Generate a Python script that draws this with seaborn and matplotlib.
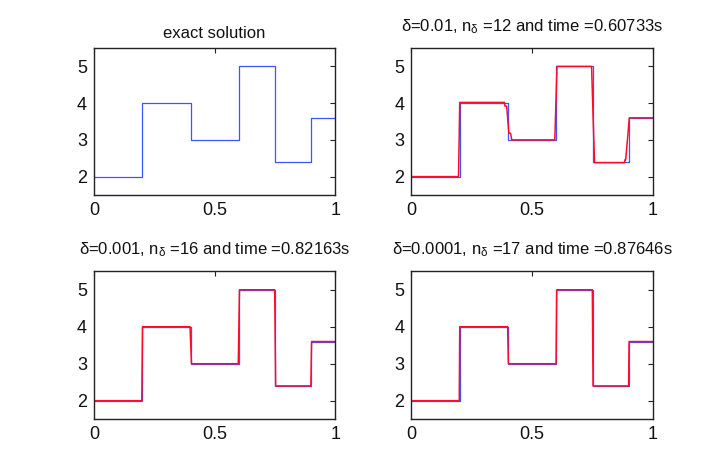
import matplotlib
matplotlib.use('Agg')  # no display
import matplotlib.pyplot as plt
import seaborn as sns
import pandas as pd

# exact solution: breakpoints and piecewise-constant values (steps-post)
exact_x = [0.0, 0.2, 0.4, 0.6, 0.75, 0.9, 1.0]
exact_y = [2.0, 4.0, 3.0, 5.0, 2.4, 3.6, 3.6]

# approximations
approx1_x = [0.0, 0.196, 0.201, 0.386, 0.388, 0.395, 0.404, 0.411, 0.416,
             0.594, 0.603, 0.746, 0.758, 0.882, 0.884, 0.887, 0.902, 1.0]
approx1_y = [2.0, 2.0, 4.02, 4.02, 3.92, 3.92, 3.18, 3.18, 3.0,
             3.0, 5.0, 5.0, 2.38, 2.38, 2.46, 2.46, 3.6, 3.6]

approx2_x = [0.0, 0.198, 0.201, 0.398, 0.404, 0.598, 0.603, 0.749, 0.753,
             0.899, 0.902, 1.0]
approx2_y = [2.0, 2.0, 4.0, 4.0, 3.0, 3.0, 5.0, 5.0, 2.4, 2.4, 3.6, 3.6]

approx3_x = [0.0, 0.199, 0.201, 0.399, 0.402, 0.599, 0.602, 0.749, 0.752,
             0.899, 0.901, 1.0]
approx3_y = [2.0, 2.0, 4.0, 4.0, 3.0, 3.0, 5.0, 5.0, 2.4, 2.4, 3.6, 3.6]

titles = [
    "exact solution",
    r"δ=0.01, n$_\mathregular{δ}$ =12 and time =0.60733s",
    r"δ=0.001, n$_\mathregular{δ}$ =16 and time =0.82163s",
    r"δ=0.0001, n$_\mathregular{δ}$ =17 and time =0.87646s",
]

x_ticks = [0, 0.5, 1]
x_tick_labels = ["0", "0.5", "1"]
y_ticks = [2, 3, 4, 5]

sns.set_theme(style="white")
plt.rcParams['font.family'] = ['Liberation Sans', 'DejaVu Sans']
plt.rcParams['mathtext.fontset'] = 'custom'
plt.rcParams['mathtext.rm'] = 'Liberation Sans'
plt.rcParams['mathtext.it'] = 'Liberation Sans:italic'

fig = plt.figure(figsize=(7.2, 4.71), dpi=100)
positions = [
    [0.1306, 0.586, 0.335, 0.312],
    [0.571, 0.586, 0.336, 0.312],
    [0.1306, 0.110, 0.335, 0.314],
    [0.571, 0.110, 0.336, 0.314],
]
title_pads = [7, 12, 12, 12]
approximations = [None, (approx1_x, approx1_y), (approx2_x, approx2_y),
                  (approx3_x, approx3_y)]

exact_df = pd.DataFrame({"x": exact_x, "u": exact_y})

for pos, title, pad, approx in zip(positions, titles, title_pads, approximations):
    ax = fig.add_axes(pos)
    sns.lineplot(data=exact_df, x="x", y="u", ax=ax, color="#3d55ff",
                 linewidth=0.9, drawstyle="steps-post", estimator=None,
                 sort=False)
    if approx is not None:
        df = pd.DataFrame({"x": approx[0], "u": approx[1]})
        sns.lineplot(data=df, x="x", y="u", ax=ax, color="#ff0a2a",
                     linewidth=1.1, estimator=None, sort=False)
    ax.set_xlim(0, 1)
    ax.set_ylim(1.5, 5.5)
    ax.set_xticks(x_ticks)
    ax.set_xticklabels(x_tick_labels)
    ax.set_yticks(y_ticks)
    ax.set_xlabel("")
    ax.set_ylabel("")
    ax.tick_params(direction="in", length=3.5, width=0.8, top=True,
                   right=True, labelsize=13, colors="#222222",
                   labelcolor="#111111", pad=5)
    for spine in ax.spines.values():
        spine.set_color("#222222")
        spine.set_linewidth(1.0)
    ax.set_title(title, fontsize=12, pad=pad, color="#111111")

plt.savefig("out.png", dpi=100)
plt.close()
